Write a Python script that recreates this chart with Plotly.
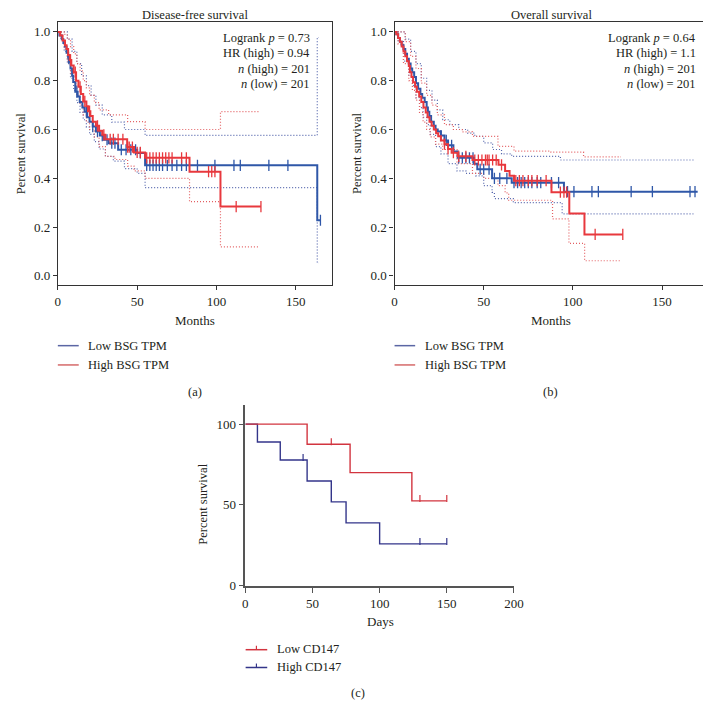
import plotly.graph_objects as go

# ---------------- DATA ----------------
# Panel (a) Disease-free survival (months, survival fraction)
A_low_t = [0, 1, 2.5, 3.5, 4.5, 5.5, 6.5, 7, 8, 9, 9.7, 11, 12.5, 13.8, 15.5, 16.9, 18.5, 20, 22, 24, 26.5, 29, 32, 38, 50, 55, 163.5]
A_low_s = [1.0, 0.985, 0.97, 0.955, 0.94, 0.915, 0.895, 0.875, 0.85, 0.82, 0.795, 0.755, 0.735, 0.713, 0.69, 0.673, 0.65, 0.632, 0.612, 0.592, 0.575, 0.558, 0.544, 0.517, 0.504, 0.453, 0.228]
A_low_end = 165.5
A_low_cens = [12, 18, 22, 25, 28, 31, 34, 36, 40, 43, 46, 49, 52, 56, 58, 60, 62, 64, 66, 69, 72, 75, 78, 81, 88, 99, 111, 115, 133, 145, 165.5]
A_low_up_t = [0, 3, 6, 9, 12, 15, 18, 21, 24, 28, 34, 42, 55, 163.5]
A_low_up_s = [1.0, 1.0, 0.97, 0.92, 0.87, 0.82, 0.78, 0.74, 0.70, 0.66, 0.63, 0.60, 0.576, 0.977]
A_low_up_end = 164.5
A_low_lo_t = [0, 2, 4, 6, 8, 10, 12, 14, 16, 18, 20, 23, 26, 30, 35, 42, 50, 55, 163.5]
A_low_lo_s = [1.0, 0.97, 0.92, 0.87, 0.81, 0.76, 0.71, 0.67, 0.64, 0.61, 0.58, 0.55, 0.52, 0.49, 0.47, 0.44, 0.42, 0.362, 0.053]
A_low_lo_end = 164.5

A_high_t = [0, 1.5, 3, 4.5, 5.5, 6.5, 7.5, 8.5, 10, 11.5, 13, 14.5, 16, 18, 19, 20.5, 22, 24, 26, 28, 30, 43.7, 48, 55, 83, 102.5]
A_high_s = [1.0, 0.985, 0.965, 0.945, 0.93, 0.905, 0.885, 0.862, 0.835, 0.80, 0.775, 0.745, 0.715, 0.695, 0.675, 0.655, 0.632, 0.615, 0.595, 0.578, 0.56, 0.528, 0.506, 0.484, 0.427, 0.284]
A_high_end = 128
A_high_cens = [8, 11, 14, 17, 20, 25, 29, 33, 35, 38, 41, 44, 45, 47, 50, 52, 56, 58, 60, 62, 64, 66, 68, 70, 72, 78, 81, 95, 97, 99, 112.4, 128]
A_high_up_t = [0, 2, 4, 6, 8, 10, 12, 14, 16, 18, 20, 23, 26, 32, 44, 55, 102.5]
A_high_up_s = [1.0, 1.0, 0.99, 0.97, 0.94, 0.91, 0.87, 0.84, 0.80, 0.77, 0.74, 0.71, 0.68, 0.66, 0.632, 0.60, 0.673]
A_high_up_end = 127
A_high_lo_t = [0, 2, 4, 6, 8, 10, 12, 14, 16, 18, 20, 23, 26, 30, 36, 44, 48, 55, 83, 102.5]
A_high_lo_s = [1.0, 0.97, 0.93, 0.88, 0.83, 0.79, 0.74, 0.70, 0.66, 0.63, 0.60, 0.57, 0.53, 0.49, 0.477, 0.45, 0.43, 0.40, 0.304, 0.119]
A_high_lo_end = 127

# Panel (b) Overall survival
B_low_t = [0, 1, 2, 3, 4, 5, 6, 7, 8, 9, 9.9, 11, 12, 13.2, 14.5, 15.5, 16.9, 18, 18.7, 19.5, 20.5, 22, 23, 24.2, 26, 28, 30, 33, 35.4, 44.6, 46.4, 54.7, 65.7, 95]
B_low_s = [1.0, 0.99, 0.975, 0.96, 0.945, 0.93, 0.91, 0.89, 0.87, 0.85, 0.835, 0.815, 0.79, 0.767, 0.745, 0.73, 0.713, 0.69, 0.673, 0.655, 0.632, 0.615, 0.60, 0.592, 0.575, 0.555, 0.535, 0.51, 0.484, 0.46, 0.437, 0.40, 0.382, 0.345]
B_low_end = 170
B_low_cens = [26, 29, 32, 36, 38, 40, 42, 44, 48, 50, 53, 56, 59, 63, 67, 69, 71, 73, 75, 77, 80, 82, 88, 92, 97, 100.6, 110.7, 114.3, 132.7, 144.6, 165.7, 168.5]
B_low_up_t = [0, 3, 6, 9, 12, 15, 18, 21, 24, 27, 31, 36, 41, 45, 50, 55, 60, 65.7, 93]
B_low_up_s = [1.0, 1.0, 0.97, 0.92, 0.87, 0.81, 0.76, 0.72, 0.68, 0.64, 0.62, 0.60, 0.585, 0.572, 0.545, 0.518, 0.50, 0.49, 0.475]
B_low_up_end = 168.5
B_low_lo_t = [0, 2, 5, 8, 10, 12, 14, 16, 18, 20, 23, 26, 30, 35, 40, 45.5, 50, 54.7, 56, 66.6, 94]
B_low_lo_s = [1.0, 0.96, 0.88, 0.82, 0.78, 0.73, 0.69, 0.65, 0.62, 0.58, 0.53, 0.50, 0.46, 0.43, 0.42, 0.41, 0.37, 0.342, 0.317, 0.30, 0.254]
B_low_lo_end = 167.6

B_high_t = [0, 1, 2, 3, 4, 5, 6, 7, 8, 8.6, 9.5, 10.4, 11.5, 12.5, 13.8, 15, 16.2, 17.5, 18.5, 19.6, 20.8, 22, 23.3, 24.5, 26, 28, 30, 32, 35.4, 43.7, 58.3, 62, 64.5, 67, 88, 98, 106.5]
B_high_s = [1.0, 0.99, 0.975, 0.96, 0.94, 0.92, 0.90, 0.88, 0.86, 0.835, 0.815, 0.794, 0.775, 0.755, 0.735, 0.713, 0.69, 0.67, 0.65, 0.632, 0.615, 0.60, 0.585, 0.572, 0.555, 0.54, 0.52, 0.505, 0.49, 0.475, 0.455, 0.43, 0.41, 0.39, 0.343, 0.256, 0.17]
B_high_end = 128
B_high_cens = [28, 30, 33, 36, 40, 45, 47, 49, 51, 52, 53, 55, 57, 60, 68, 70, 72, 75, 77, 80, 85, 93, 95, 96.5, 112.5, 128]
B_high_up_t = [0, 3, 6, 9, 12, 15, 18, 21, 24, 28, 33, 38, 43.7, 58, 67, 87.7, 106]
B_high_up_s = [1.0, 1.0, 0.96, 0.90, 0.85, 0.79, 0.74, 0.70, 0.66, 0.62, 0.60, 0.59, 0.572, 0.531, 0.511, 0.507, 0.488]
B_high_up_end = 127
B_high_lo_t = [0, 2, 5, 8, 10, 12, 14, 16, 18, 20, 23, 27, 35, 43.7, 50, 58, 62, 64, 88.6, 97.8, 106.6]
B_high_lo_s = [1.0, 0.95, 0.87, 0.80, 0.76, 0.72, 0.67, 0.63, 0.60, 0.57, 0.54, 0.518, 0.46, 0.42, 0.40, 0.37, 0.34, 0.31, 0.234, 0.133, 0.062]
B_high_lo_end = 127

# Panel (c) Days, percent survival
C_low_t = [0, 46, 78, 124]
C_low_s = [100, 87.5, 70, 52.5]
C_low_end = 150
C_low_cens = [64, 130, 150]
C_high_t = [0, 9, 26, 46, 64, 75, 100]
C_high_s = [100, 88.9, 77.8, 64.8, 51.9, 38.9, 25.9]
C_high_end = 150
C_high_cens = [43, 130, 150]

stats_a = ["Logrank <i>p</i> = 0.73", "HR (high) = 0.94", "<i>n</i> (high) = 201", "<i>n</i> (low) = 201"]
stats_b = ["Logrank <i>p</i> = 0.64", "HR (high) = 1.1", "<i>n</i> (high) = 201", "<i>n</i> (low) = 201"]

# ---------------- STYLE / LAYOUT ----------------
W = H = 711
FONT = "Liberation Serif"
TXT = "#231f20"
RED = "#e8383d"
BLUE = "#2f57a8"
RED_CI = "#e35f62"
BLUE_CI = "#5566ad"
C_RED = "#d2343f"
C_BLUE = "#33358a"


def fx(p):
    return p / W


def fy(p):
    return 1 - p / H


def step(t, s, end):
    return list(t) + [end], list(s) + [s[-1]]


def lookup(t, s, x):
    v = s[0]
    for ti, si in zip(t, s):
        if ti <= x:
            v = si
    return v


fig = go.Figure()


def add_curve(t, s, end, color, width, xa, ya, dash=None):
    x, y = step(t, s, end)
    fig.add_trace(go.Scatter(x=x, y=y, mode="lines", line=dict(color=color, width=width, shape="hv", dash=dash),
                             xaxis=xa, yaxis=ya, showlegend=False, hoverinfo="skip"))


def add_cens(t, s, cens, color, size, lw, xa, ya, offset=0.0):
    fig.add_trace(go.Scatter(x=cens, y=[lookup(t, s, c) + offset for c in cens], mode="markers",
                             marker=dict(symbol="line-ns", size=size, line=dict(color=color, width=lw)),
                             xaxis=xa, yaxis=ya, showlegend=False, hoverinfo="skip"))


DOT = "1px,2px"

# panel a
for (t, s, e, c) in [(A_low_up_t, A_low_up_s, A_low_up_end, BLUE_CI), (A_low_lo_t, A_low_lo_s, A_low_lo_end, BLUE_CI),
                     (A_high_up_t, A_high_up_s, A_high_up_end, RED_CI), (A_high_lo_t, A_high_lo_s, A_high_lo_end, RED_CI)]:
    add_curve(t, s, e, c, 1.2, "x", "y", dash=DOT)
add_curve(A_low_t, A_low_s, A_low_end, BLUE, 2, "x", "y")
add_cens(A_low_t, A_low_s, A_low_cens, BLUE, 8, 1.3, "x", "y")
add_curve(A_high_t, A_high_s, A_high_end, RED, 2, "x", "y")
add_cens(A_high_t, A_high_s, A_high_cens, RED, 8, 1.3, "x", "y")

# panel b
for (t, s, e, c) in [(B_low_up_t, B_low_up_s, B_low_up_end, BLUE_CI), (B_low_lo_t, B_low_lo_s, B_low_lo_end, BLUE_CI),
                     (B_high_up_t, B_high_up_s, B_high_up_end, RED_CI), (B_high_lo_t, B_high_lo_s, B_high_lo_end, RED_CI)]:
    add_curve(t, s, e, c, 1.2, "x2", "y2", dash=DOT)
add_curve(B_low_t, B_low_s, B_low_end, BLUE, 2, "x2", "y2")
add_cens(B_low_t, B_low_s, B_low_cens, BLUE, 8, 1.3, "x2", "y2")
add_curve(B_high_t, B_high_s, B_high_end, RED, 2, "x2", "y2")
add_cens(B_high_t, B_high_s, B_high_cens, RED, 8, 1.3, "x2", "y2")

# panel c
add_curve(C_high_t, C_high_s, C_high_end, C_BLUE, 1.4, "x3", "y3")
add_cens(C_high_t, C_high_s, C_high_cens, C_BLUE, 5, 1.2, "x3", "y3", offset=1.5)
add_curve(C_low_t, C_low_s, C_low_end, C_RED, 1.4, "x3", "y3")
add_cens(C_low_t, C_low_s, C_low_cens, C_RED, 5, 1.2, "x3", "y3", offset=1.5)

tickfont = dict(family=FONT, size=13, color=TXT)
box_axis = dict(showline=True, linecolor="#333333", linewidth=1.2, mirror=True, ticks="outside", ticklen=4,
                tickcolor="#333333", showgrid=False, zeroline=False, tickfont=tickfont)
c_axis = dict(showline=True, linecolor="#555555", linewidth=1.6, mirror=False, ticks="outside", ticklen=5,
              tickwidth=1.4, tickcolor="#555555", showgrid=False, zeroline=False, tickfont=tickfont)

fig.update_layout(
    width=W, height=H, margin=dict(l=0, r=0, t=0, b=0),
    paper_bgcolor="white", plot_bgcolor="white",
    font=dict(family=FONT, color=TXT, size=12.5),
    xaxis=dict(domain=[fx(47.7), fx(327)], range=[0, 172.8], tickvals=[0, 50, 100, 150], anchor="y", **box_axis),
    yaxis=dict(domain=[fy(280.3), fy(14.3)], range=[-0.038, 1.04], tickvals=[0, 0.2, 0.4, 0.6, 0.8, 1.0],
               tickformat=".1f", anchor="x", **box_axis),
    xaxis2=dict(domain=[fx(390.7), fx(710)], range=[0, 175.8], tickvals=[0, 50, 100, 150], anchor="y2", **box_axis),
    yaxis2=dict(domain=[fy(280.3), fy(14.3)], range=[-0.038, 1.04], tickvals=[0, 0.2, 0.4, 0.6, 0.8, 1.0],
                tickformat=".1f", anchor="x2", **box_axis),
    xaxis3=dict(domain=[fx(238.7), fx(512.3)], range=[0, 200], tickvals=[0, 50, 100, 150, 200], anchor="y3", **c_axis),
    yaxis3=dict(domain=[fy(584.3), fy(401.7)], range=[0, 111.7], tickvals=[0, 50, 100], anchor="x3", **c_axis),
)

ann = []


def text(x, y, s, size=12.5, xanchor="center", angle=0):
    ann.append(dict(x=fx(x), y=fy(y), xref="paper", yref="paper", text=s, showarrow=False, xanchor=xanchor,
                    yanchor="middle", textangle=angle, borderpad=0,
                    font=dict(family=FONT, size=size, color=TXT)))


text(187.4, 7.5, "Disease-free survival", 12.5)
text(550.4, 7.5, "Overall survival", 12.5)
for i, (sa, sb) in enumerate(zip(stats_a, stats_b)):
    yy = 30 + i * 15.7
    text(306, yy, sa, 12.5, "right")
    text(698.3, yy, sb, 12.5, "right")
text(11, 147, "Percent survival", 12.5, angle=-90)
text(353, 147, "Percent survival", 12.5, angle=-90)
text(187.4, 315.7, "Months", 13)
text(550.4, 315.7, "Months", 13)
text(196, 502, "Percent survival", 12.5, angle=-90)
text(376, 620, "Days", 13)

shapes = []


def lg_line(x0, x1, y, color, tick=False):
    shapes.append(dict(type="line", xref="paper", yref="paper", x0=fx(x0), x1=fx(x1), y0=fy(y), y1=fy(y),
                       line=dict(color=color, width=1.5)))
    if tick:
        xm = (x0 + x1) / 2
        shapes.append(dict(type="line", xref="paper", yref="paper", x0=fx(xm), x1=fx(xm), y0=fy(y), y1=fy(y - 4),
                           line=dict(color=color, width=1.2)))


lg_line(47.7, 69, 341.5, "#5b66a4")
lg_line(47.7, 69, 361, "#d56a6a")
text(77.7, 341.5, "Low BSG TPM", 12.5, "left")
text(77.7, 361, "High BSG TPM", 12.5, "left")
lg_line(390.7, 411.7, 341.5, "#5b66a4")
lg_line(390.7, 411.7, 361, "#d56a6a")
text(420.7, 341.5, "Low BSG TPM", 12.5, "left")
text(420.7, 361, "High BSG TPM", 12.5, "left")
text(187, 388, "(a)", 12.5)
text(550, 388, "(b)", 12.5)

lg_line(239, 261, 649, C_RED, tick=True)
lg_line(239, 261, 667, C_BLUE, tick=True)
text(269.5, 648, "Low CD147", 12.5, "left")
text(269.5, 666, "High CD147", 12.5, "left")
text(353, 693, "(c)", 12.5)

fig.update_layout(annotations=ann, shapes=shapes)
fig.write_html("out.html")
